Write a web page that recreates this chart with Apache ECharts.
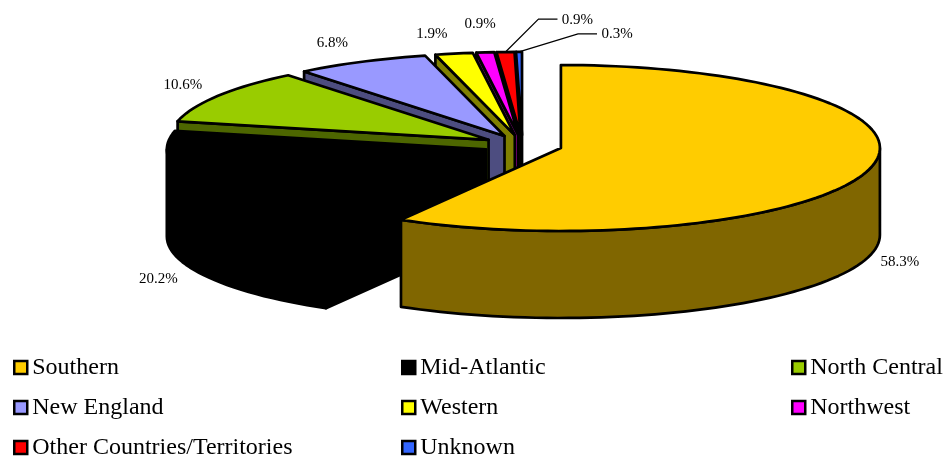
<!DOCTYPE html>
<html>
<head>
<meta charset="utf-8">
<style>html,body{margin:0;padding:0;background:#fff}#chart{width:945px;height:457px}</style>
<script src="https://cdn.jsdelivr.net/npm/echarts@6/dist/echarts.min.js"></script>
</head>
<body>
<div id="chart"></div>
<script>
var regions = ["Southern", "Mid-Atlantic", "North Central", "New England", "Western", "Northwest", "Other Countries/Territories", "Unknown"];
var shares = [58.3, 20.2, 10.6, 6.8, 1.9, 0.9, 0.9, 0.3];

var topColors = ["#FFCC00", "#000000", "#99CC00", "#9999FF", "#FFFF00", "#FF00FF", "#FF0000", "#3366FF"];
var sideColors = ["#806600", "#000000", "#4D6600", "#4D4D80", "#808000", "#800080", "#800000", "#1A3380"];

// label place relative to the middle of each slice's rim
var labelOffsets = [[31, 93], [-35, 97], [-35, -11], [-29, -19], [-22, -20], [-5, -28], [72, -32], [98, -18]];
// only the last two labels have a leader; elbow relative to the rim point too
var leaderElbows = [null, null, null, null, null, null, [33, -33], [59, -18]];

var cx = 522.4, cy = 145.3, rx = 319, ry = 83, depth = 87, explode = 0.125;
var serif = '"Liberation Serif", serif';

var total = 0;
shares.forEach(function (v) { total += v; });

function rimPoint(ox, oy, deg, drop) {
    var a = deg * Math.PI / 180;
    return [ox + rx * Math.sin(a), oy - ry * Math.cos(a) + (drop || 0)];
}

function arcPoints(ox, oy, from, to, drop) {
    var pts = [];
    var n = Math.max(2, Math.ceil((to - from) / 2));
    for (var k = 0; k <= n; k++) {
        pts.push(rimPoint(ox, oy, from + (to - from) * k / n, drop));
    }
    return pts;
}

function poly(points, fill) {
    return {
        type: "polygon",
        shape: { points: points },
        style: { fill: fill, stroke: "#000", lineWidth: 2.7, lineJoin: "round" }
    };
}

function cutFace(ox, oy, deg, fill) {
    return poly([[ox, oy], rimPoint(ox, oy, deg), rimPoint(ox, oy, deg, depth), [ox, oy + depth]], fill);
}

function sliceRenderer(i, startDeg, endDeg) {
    return function () {
        var mid = (startDeg + endDeg) / 2;
        var ma = mid * Math.PI / 180;
        var ox = cx + explode * rx * Math.sin(ma);
        var oy = cy - explode * ry * Math.cos(ma);
        var kids = [];

        // cut faces, only those turned to the viewer
        if (startDeg > 180) {
            kids.push(cutFace(ox, oy, startDeg, sideColors[i]));
        }
        if (endDeg < 180) {
            kids.push(cutFace(ox, oy, endDeg, sideColors[i]));
        }

        // outer wall, same thing
        var from = Math.max(startDeg, 90), to = Math.min(endDeg, 270);
        if (to > from) {
            var upper = arcPoints(ox, oy, from, to, 0);
            var lower = arcPoints(ox, oy, from, to, depth).reverse();
            kids.push(poly(upper.concat(lower), sideColors[i]));
        }

        // top face
        kids.push(poly([[ox, oy]].concat(arcPoints(ox, oy, startDeg, endDeg, 0)), topColors[i]));

        var rim = rimPoint(ox, oy, mid);
        var off = labelOffsets[i];
        if (leaderElbows[i]) {
            var el = leaderElbows[i];
            kids.push({
                type: "polyline",
                shape: { points: [rim, [rim[0] + el[0], rim[1] + el[1]], [rim[0] + off[0] - 20, rim[1] + el[1]]] },
                style: { fill: null, stroke: "#000", lineWidth: 1.2 }
            });
        }
        kids.push({
            type: "text",
            style: {
                x: rim[0] + off[0], y: rim[1] + off[1],
                text: shares[i].toFixed(1) + "%",
                fill: "#000", font: "15px " + serif,
                textAlign: "center", textVerticalAlign: "middle"
            }
        });
        return { type: "group", children: kids };
    };
}

var series = [];
var angle = 0;
regions.forEach(function (name, i) {
    var sweep = shares[i] / total * 360;
    series.push({
        type: "custom",
        name: name,
        coordinateSystem: "none",
        color: topColors[i],
        data: [[shares[i]]],
        renderItem: sliceRenderer(i, angle, angle + sweep)
    });
    angle += sweep;
});
// the back slices have to be painted first, Southern last
series.reverse();

function legendColumn(left, names) {
    return {
        orient: "vertical",
        left: left,
        top: 350,
        height: 125,
        itemWidth: 13,
        itemHeight: 13,
        itemGap: 15,
        icon: "rect",
        data: names,
        selectedMode: false,
        itemStyle: { borderColor: "#000", borderWidth: 2.5 },
        textStyle: { color: "#000", fontFamily: serif, fontSize: 24, lineHeight: 25 }
    };
}

var option = {
    animation: false,
    legend: [
        legendColumn(8, [regions[0], regions[3], regions[6]]),
        legendColumn(396, [regions[1], regions[4], regions[7]]),
        legendColumn(786, [regions[2], regions[5]])
    ],
    series: series
};

echarts.init(document.getElementById("chart")).setOption(option);
</script>
</body>
</html>
